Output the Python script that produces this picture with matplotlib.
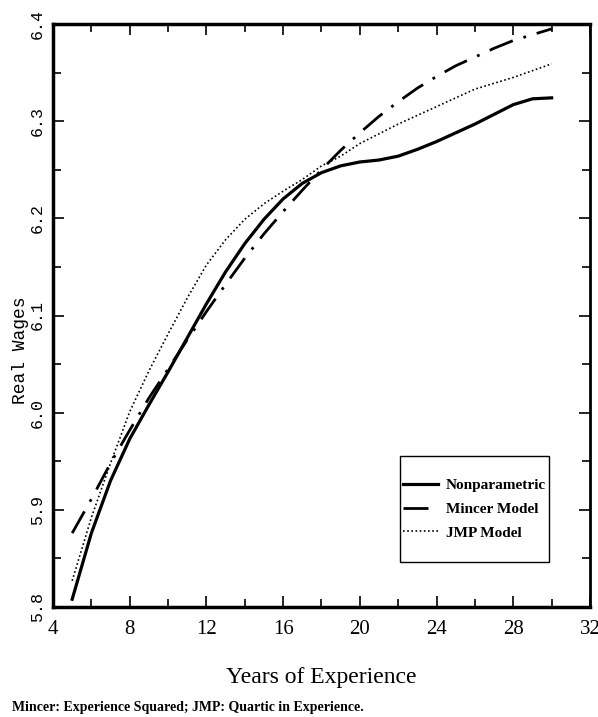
import matplotlib
matplotlib.use("Agg")
import matplotlib.pyplot as plt
from matplotlib.patches import Rectangle
from matplotlib.ticker import MultipleLocator

# values
years = list(range(5, 31))
nonparam = [5.808, 5.876, 5.930, 5.973, 6.008, 6.042, 6.077, 6.112, 6.145, 6.174,
            6.199, 6.220, 6.236, 6.247, 6.254, 6.258, 6.260, 6.264, 6.271, 6.279,
            6.288, 6.297, 6.307, 6.317, 6.323, 6.324]
mincer = [5.876, 5.911, 5.948, 5.982, 6.015, 6.045, 6.075, 6.104, 6.132, 6.159,
          6.184, 6.207, 6.229, 6.250, 6.270, 6.288, 6.305, 6.320, 6.334, 6.346,
          6.357, 6.366, 6.375, 6.383, 6.389, 6.395]
jmp = [5.827, 5.892, 5.948, 6.001, 6.043, 6.081, 6.118, 6.152, 6.178, 6.199,
       6.215, 6.228, 6.240, 6.254, 6.264, 6.277, 6.287, 6.297, 6.306, 6.315,
       6.324, 6.333, 6.339, 6.345, 6.352, 6.359]
labels = ["Nonparametric", "Mincer Model", "JMP Model"]
xticks = [4, 8, 12, 16, 20, 24, 28, 32]
yticks = [5.8, 5.9, 6.0, 6.1, 6.2, 6.3, 6.4]

SERIF = dict(family="Liberation Serif")
MONO = dict(family="Liberation Mono")

fig = plt.figure(figsize=(5.98, 7.17), dpi=100)
ax = fig.add_axes([53 / 598, 110 / 717, 537 / 598, 583 / 717])

ax.plot(years, nonparam, color="black", lw=2.3, ls="-", label=labels[0])
ax.plot(years, mincer, color="black", lw=2.0, ls=(0, (9, 4, 1, 4)), label=labels[1])
ax.plot(years, jmp, color="black", lw=1.2, ls=(0, (1, 1.5)), label=labels[2])

ax.set_xlim(4, 32)
ax.set_ylim(5.8, 6.4)
ax.set_xticks(xticks)
ax.set_xticklabels([str(t) for t in xticks], fontdict=dict(size=15, **SERIF))
ax.xaxis.set_minor_locator(MultipleLocator(2))
ax.set_yticks(yticks)
ax.set_yticklabels([f"{t:.1f}" for t in yticks], rotation=90, va="center",
                   fontdict=dict(size=12, **MONO))
ax.yaxis.set_minor_locator(MultipleLocator(0.05))
ax.tick_params(which="both", direction="in", top=True, right=True)
ax.tick_params(which="major", length=8, width=1.2)
ax.tick_params(which="minor", length=6, width=1.2)
ax.tick_params(axis="x", pad=9)
ax.tick_params(axis="y", pad=6)
for s in ["left", "bottom", "top"]:
    ax.spines[s].set_linewidth(2.5)
ax.spines["right"].set_linewidth(2.0)

ax.set_ylabel("Real Wages", fontdict=dict(size=13, **MONO))
ax.yaxis.set_label_coords(-0.045, 0.44)
ax.set_xlabel("Years of Experience", fontdict=dict(size=17, **SERIF))
ax.xaxis.set_label_coords(0.5, -0.103)

# legend box drawn by hand (taller padding than wide)
ax.add_patch(Rectangle((0.646, 0.077), 0.278, 0.182, transform=ax.transAxes,
                       fill=False, edgecolor="black", lw=1.0, zorder=4))
leg = ax.legend(loc="center", bbox_to_anchor=(0.785, 0.168), frameon=False,
                prop=dict(size=11, weight="bold", **SERIF), handlelength=2.3,
                handletextpad=0.5, borderpad=0.2, borderaxespad=0,
                labelspacing=0.65)

fig.text(12 / 598, 1 - 707 / 717, "Mincer: Experience Squared; JMP: Quartic in Experience.",
         fontdict=dict(size=10, weight="bold", **SERIF), va="center", ha="left")

fig.savefig("out.png", dpi=100)
